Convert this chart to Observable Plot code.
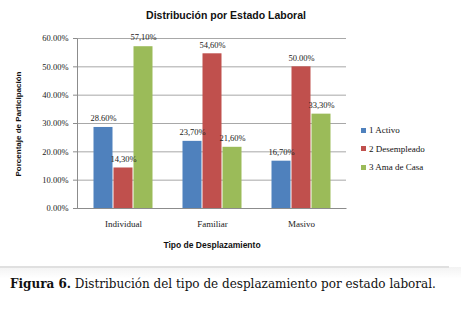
<!DOCTYPE html>
<html>
<head>
<meta charset="utf-8">
<script src="https://cdn.jsdelivr.net/npm/d3@7"></script>
<script src="https://cdn.jsdelivr.net/npm/@observablehq/plot@0.6"></script>
<style>
  html, body { margin: 0; padding: 0; background: #fff; }
  #wrap { position: relative; width: 461px; height: 313px; overflow: hidden; background: #fff; }
  #title { height: 26px; position: relative; }
  #title span { position: absolute; left: 226px; top: 15px; transform: translate(-50%, -50%); white-space: nowrap;
    font: bold 10.5px "Liberation Sans", "DejaVu Sans", sans-serif; color: #111; }
  #ytitle { position: absolute; left: 18px; top: 124px; transform: translate(-50%, -50%) rotate(-90deg);
    white-space: nowrap; font: bold 8px "Liberation Sans", sans-serif; color: #111; }
  #xtitle { position: absolute; left: 212px; top: 245px; transform: translate(-50%, -50%);
    white-space: nowrap; font: bold 8.5px "Liberation Sans", sans-serif; color: #111; }
  #legend { position: absolute; left: 361px; top: 121px; font: 9px "Liberation Serif", serif; color: #111; }
  #legend div { height: 18.5px; display: flex; align-items: center; }
  #legend span.sw { display: inline-block; width: 5px; height: 5px; margin-right: 3px; }
  #sep { position: absolute; left: 0; top: 267px; width: 461px; height: 46px;
    background: linear-gradient(#f3f3f3, #fff 25%); }
  #sepline { position: absolute; left: 0; top: 266px; width: 449px; height: 2px; background: #e0e0e0; }
  #caption { position: absolute; left: 10px; top: 277px; white-space: nowrap;
    font: 12px "DejaVu Serif", "Liberation Serif", serif; line-height: 14px; color: #111; }
  #caption b { font-weight: bold; }
</style>
</head>
<body>
<div id="wrap">
  <div id="title"><span>Distribución por Estado Laboral</span></div>
  <div id="chart"></div>
  <div id="ytitle">Porcentaje de Participación</div>
  <div id="xtitle">Tipo de Desplazamiento</div>
  <div id="legend"></div>
  <div id="sep"></div>
  <div id="sepline"></div>
  <div id="caption"><b>Figura 6.</b> Distribución del tipo de desplazamiento por estado laboral.</div>
</div>
<script>
const categories = ["Individual", "Familiar", "Masivo"];
const seriesNames = ["1 Activo", "2 Desempleado", "3 Ama de Casa"];
const activo = [28.6, 23.7, 16.7];
const desempleado = [14.3, 54.6, 50.0];
const amaDeCasa = [57.1, 21.6, 33.3];
const labelsActivo = ["28.60%", "23,70%", "16,70%"];
const labelsDesempleado = ["14,30%", "54,60%", "50.00%"];
const labelsAmaDeCasa = ["57,10%", "21,60%", "33,30%"];
const yTicks = [0, 10, 20, 30, 40, 50, 60];
const colors = ["#4F81BD", "#C0504D", "#9BBB59"];

const seriesValues = [activo, desempleado, amaDeCasa];
const seriesLabels = [labelsActivo, labelsDesempleado, labelsAmaDeCasa];
const data = [];
seriesNames.forEach((s, si) => categories.forEach((c, ci) => {
  data.push({tipo: c, estado: s, si, value: seriesValues[si][ci], label: seriesLabels[si][ci]});
}));

const W = 461, H = 234, mL = 77, mR = 115, mT = 12, mB = 52;
const fw = W - mL - mR, fh = H - mT - mB;
const offsets = [-20, 0, 20];

const marks = [
  Plot.gridY(yTicks, {stroke: "#a8a8a8", strokeOpacity: 1}),
  Plot.frame({stroke: "#8c8c8c", strokeDasharray: `0,${fw + fh},${fw + fh + 2}`}),
  Plot.axisY(yTicks, {tickFormat: d => d.toFixed(2) + "%", tickSize: 4, tickPadding: 5,
    stroke: "#8c8c8c", fontSize: 8.5, fill: "#222", label: null}),
  Plot.axisX({tickSize: 0, tickPadding: 12, fontSize: 9, fill: "#222", label: null})
];
seriesNames.forEach((s, si) => {
  const d = data.filter(r => r.si === si);
  marks.push(Plot.barY(d, {x: "tipo", y: "value", fill: colors[si], dx: offsets[si], insetLeft: 0.5, insetRight: 0.5}));
});
seriesNames.forEach((s, si) => {
  const d = data.filter(r => r.si === si);
  marks.push(Plot.text(d, {x: "tipo", y: "value", text: "label", dx: offsets[si], dy: -9,
    fontSize: 8.5, fill: "#222"}));
});

const plot = Plot.plot({
  width: W, height: H,
  marginLeft: mL, marginRight: mR, marginTop: mT, marginBottom: mB,
  style: {fontFamily: "'Liberation Serif', serif", background: "transparent", overflow: "visible"},
  x: {domain: categories, paddingInner: 0.777, paddingOuter: 0.3885, axis: null},
  y: {domain: [0, 60], axis: null},
  marks
});
document.getElementById("chart").appendChild(plot);

const legend = document.getElementById("legend");
seriesNames.forEach((s, i) => {
  const row = document.createElement("div");
  const sw = document.createElement("span");
  sw.className = "sw"; sw.style.background = colors[i];
  row.appendChild(sw);
  row.appendChild(document.createTextNode(s));
  legend.appendChild(row);
});
</script>
</body>
</html>
